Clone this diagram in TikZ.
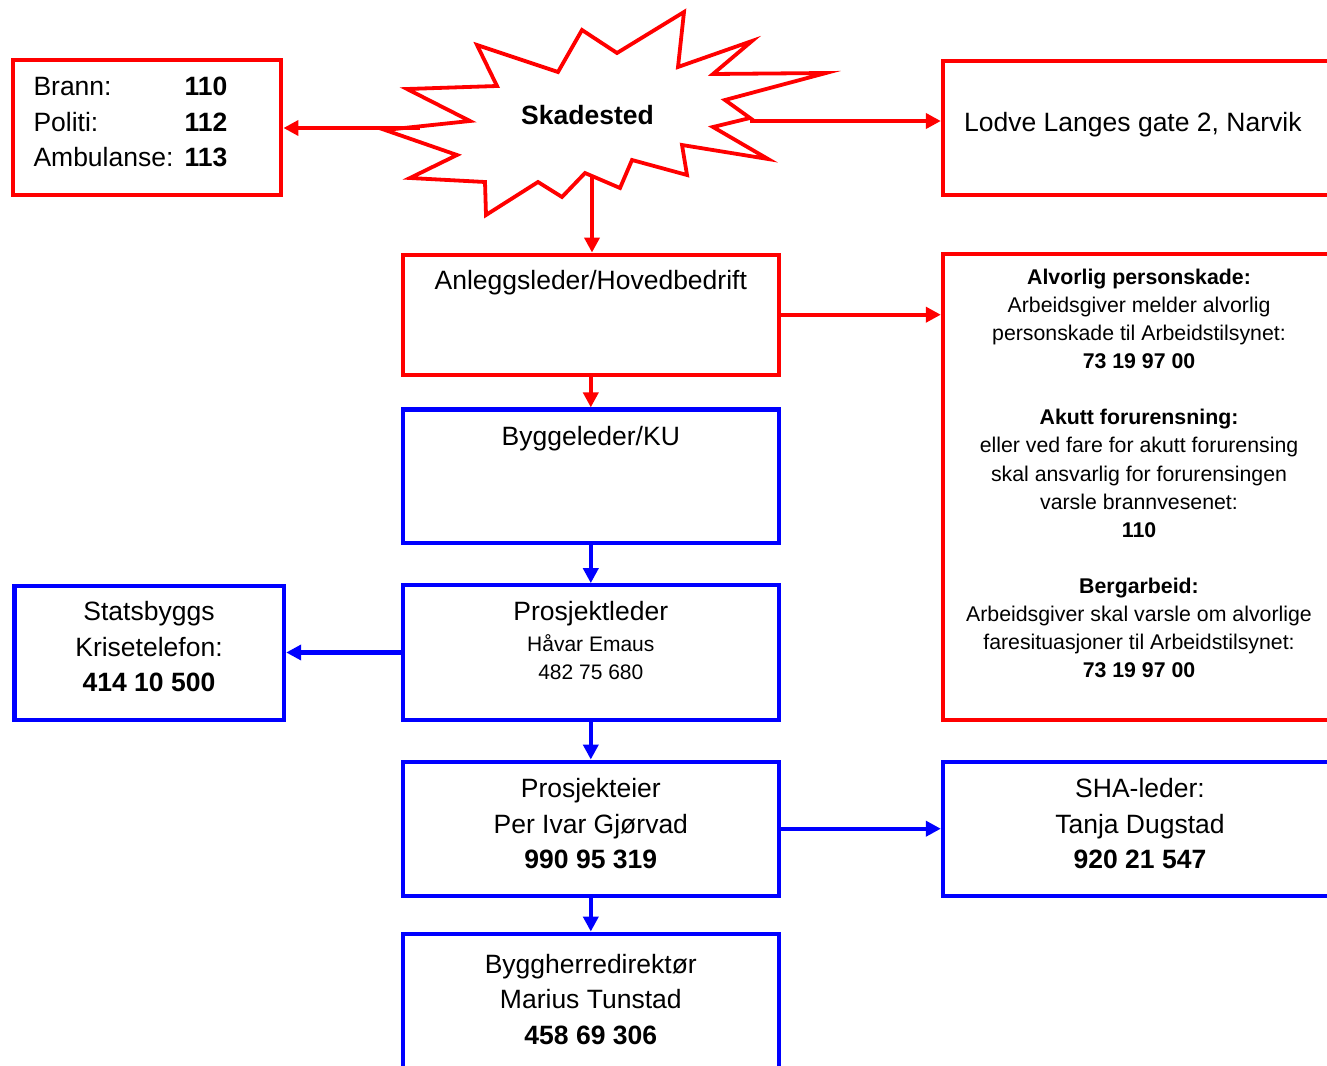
\documentclass[tikz,border=0pt]{standalone}
\usepackage{fontspec}
\setmainfont{Liberation Sans}
\usetikzlibrary{arrows.meta}
\definecolor{pred}{RGB}{255,0,0}
\definecolor{pblue}{RGB}{0,0,255}
\tikzset{
  rbox/.style={draw=pred, line width=4.3pt, rectangle, inner sep=0pt},
  bbox/.style={draw=pblue, line width=4.3pt, rectangle, inner sep=0pt},
  rarr/.style={draw=pred, line width=4.2pt, -{Triangle[length=15pt,width=15pt]}},
  barr/.style={draw=pblue, line width=4.2pt, -{Triangle[length=15pt,width=15pt]}},
  burst/.style={draw=pred, fill=white, line width=3.8pt, line join=miter, miter limit=20},
  big/.style={inner sep=0pt, anchor=base, font=\fontsize{26.5}{30}\selectfont},
  bigb/.style={big, font=\fontsize{26.5}{30}\selectfont\bfseries},
  mid/.style={inner sep=0pt, anchor=base, font=\fontsize{21}{25}\selectfont},
  sml/.style={inner sep=0pt, anchor=base, font=\fontsize{21.3}{25}\selectfont},
  smlb/.style={sml, font=\fontsize{21.3}{25}\selectfont\bfseries},
}
\begin{document}
\begin{tikzpicture}[x=1pt,y=-1pt]
\useasboundingbox (0,0) rectangle (1327,1065);
\clip (0,0) rectangle (1327,1065);

% boxes
\node[rbox, minimum width=268.6pt, minimum height=134.4pt] (emerg) at (147,127.5) {};
\node[rbox, minimum width=394pt, minimum height=134pt] (addr) at (1140,128) {};
\node[rbox, minimum width=375.7pt, minimum height=120pt] (ansl) at (590.8,314.7) {};
\node[rbox, minimum width=394pt, minimum height=466pt] (info) at (1140,486.7) {};
\node[bbox, minimum width=375.7pt, minimum height=133.3pt] (bygl) at (590.8,476.2) {};
\node[bbox, minimum width=375.7pt, minimum height=134.4pt] (pl) at (590.8,652.5) {};
\node[bbox, minimum width=269.7pt, minimum height=133.7pt] (stat) at (149.2,652.9) {};
\node[bbox, minimum width=375.7pt, minimum height=134pt] (pe) at (590.8,828.7) {};
\node[bbox, minimum width=394pt, minimum height=134pt] (sha) at (1140,828.7) {};
\node[bbox, minimum width=375.7pt, minimum height=134pt] (bhd) at (590.8,1000.7) {};

% starburst
\draw[burst] (477,45) -- (558,72) -- (582,30) -- (617,53) -- (684,12) -- (678,67)
  -- (752,41) -- (713,74) -- (826,73) -- (725,100) -- (750,118) -- (713,127)
  -- (768,159) -- (682,145) -- (687,175) -- (632,160) -- (620,188) -- (585,173)
  -- (562,197) -- (538,182) -- (486,215) -- (485,182) -- (410,178) -- (457,155)
  -- (385,130) -- (470,121) -- (407,89) -- (497,86) -- cycle;
\node[bigb] (skad) at (587.5,124) {Skadested};
\coordinate (sL) at (420,128);
\coordinate (sR) at (750,121);
\coordinate (sB) at (592,176);

% connectors
\draw[rarr] (sL) -- (sL -| emerg.east);
\draw[rarr] (sR) -- (sR -| addr.west);
\draw[rarr] (sB) -- (sB |- ansl.north);
\draw[rarr] (ansl.east) -- (info.west |- ansl.east);
\draw[rarr] (ansl.south) -- (bygl.north);
\draw[barr] (bygl.south) -- (pl.north);
\draw[barr] (pl.west) -- (stat.east |- pl.west);
\draw[barr] (pl.south) -- (pe.north);
\draw[barr] (pe.east) -- (sha.west |- pe.east);
\draw[barr] (pe.south) -- (bhd.north);

% emergency numbers
\node[big, anchor=base west] (tbrann) at (33.3,95.7) {Brann:};
\node[big, anchor=base west] (tpol) at (33.3,131.2) {Politi:};
\node[big, anchor=base west] (tamb) at (33.3,166.7) {Ambulanse:};
\node[bigb, anchor=base west] (n110) at (184.3,95.7) {110};
\node[bigb, anchor=base west] (n112) at (184.3,131.2) {112};
\node[bigb, anchor=base west] (n113) at (184.3,166.7) {113};

% address
\node[big, anchor=base west] (taddr) at (964,131.5) {Lodve Langes gate 2, Narvik};

% central column
\node[big] (tansl) at (590.8,289.5) {Anleggsleder/Hovedbedrift};
\node[big] (tbygl) at (590.8,445.5) {Byggeleder/KU};
\node[big] (tpl1) at (590.8,620) {Prosjektleder};
\node[mid] (tpl2) at (590.8,651) {Håvar Emaus};
\node[mid] (tpl3) at (590.8,679) {482 75 680};
\node[big] (tpe1) at (590.8,797.5) {Prosjekteier};
\node[big] (tpe2) at (590.8,833) {Per Ivar Gjørvad};
\node[bigb] (tpe3) at (590.8,868.5) {990 95 319};
\node[big] (tbh1) at (590.8,973.3) {Byggherredirektør};
\node[big] (tbh2) at (590.8,1008.8) {Marius Tunstad};
\node[bigb] (tbh3) at (590.8,1044.3) {458 69 306};

% Statsbygg
\node[big] (tst1) at (149,620.7) {Statsbyggs};
\node[big] (tst2) at (149,656.2) {Krisetelefon:};
\node[bigb] (tst3) at (149,691.7) {414 10 500};

% SHA
\node[big] (tsha1) at (1140,797.5) {SHA-leder:};
\node[big] (tsha2) at (1140,833) {Tanja Dugstad};
\node[bigb] (tsha3) at (1140,868.5) {920 21 547};

% info box
\node[smlb] (i1) at (1139,284.3) {Alvorlig personskade:};
\node[sml] (i2) at (1139,312.4) {Arbeidsgiver melder alvorlig};
\node[sml] (i3) at (1139,340.5) {personskade til Arbeidstilsynet:};
\node[smlb] (i4) at (1139,368.6) {73 19 97 00};
\node[smlb] (i5) at (1139,424.8) {Akutt forurensning:};
\node[sml] (i6) at (1139,452.9) {eller ved fare for akutt forurensing};
\node[sml] (i7) at (1139,481) {skal ansvarlig for forurensingen};
\node[sml] (i8) at (1139,509.1) {varsle brannvesenet:};
\node[smlb] (i9) at (1139,537.2) {110};
\node[smlb] (i10) at (1139,593.4) {Bergarbeid:};
\node[sml] (i11) at (1139,621.5) {Arbeidsgiver skal varsle om alvorlige};
\node[sml] (i12) at (1139,649.6) {faresituasjoner til Arbeidstilsynet:};
\node[smlb] (i13) at (1139,677.7) {73 19 97 00};
\end{tikzpicture}
\end{document}
